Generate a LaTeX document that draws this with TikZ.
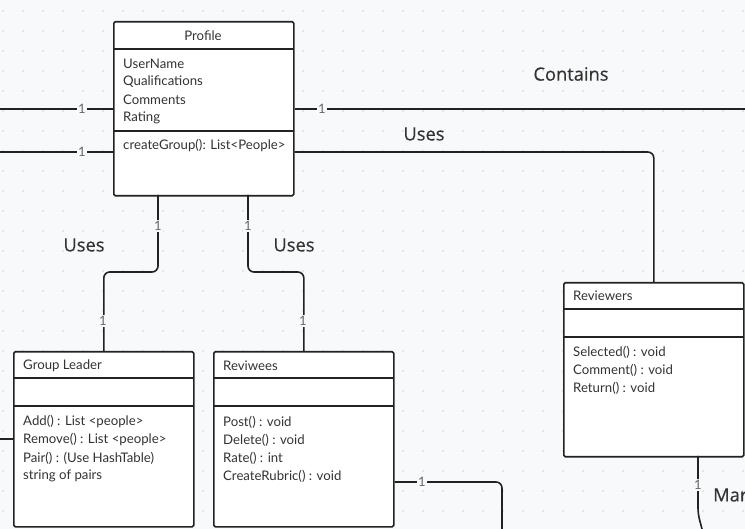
\documentclass[tikz,border=0pt]{standalone}
\usepackage{fontspec}
\setmainfont{Lato}
\newfontfamily\labfont[FakeBold=0.5]{Open Sans}
\usetikzlibrary{calc}
\definecolor{bgc}{HTML}{F8F9FB}
\definecolor{dotc}{HTML}{DEE0E4}
\definecolor{linec}{HTML}{222222}
\definecolor{txtc}{HTML}{333333}
\definecolor{numc}{HTML}{666666}
\tikzset{
  umlbox/.style={draw=linec, line width=1.6pt, fill=white, rounded corners=1.5pt, anchor=north west, inner sep=0pt},
  divider/.style={draw=linec, line width=1.6pt},
  conn/.style={draw=linec, line width=1.6pt, rounded corners=6pt},
  btxt/.style={anchor=west, inner sep=0pt, text=txtc, font=\fontsize{13.2}{15}\selectfont},
  ttl/.style={inner sep=0pt, text=txtc, font=\fontsize{13.2}{15}\selectfont},
  mult/.style={fill=bgc, inner sep=1.5pt, text=numc, font=\fontsize{13}{15}\selectfont},
  rel/.style={inner sep=0pt, text=txtc, font=\labfont\fontsize{18.3}{21}\selectfont}
}
\begin{document}
\begin{tikzpicture}[x=1pt,y=-1pt]
\fill[bgc] (0,0) rectangle (745,529);
\useasboundingbox (0,0) rectangle (745,529);
\foreach \i in {3,23,...,743}{\foreach \j in {11,31,...,529}{\fill[dotc] (\i,\j) circle (1.1pt);}}

% boxes
\node[umlbox, minimum width=180pt, minimum height=174pt] (profile) at (113,21) {};
\node[umlbox, minimum width=180pt, minimum height=175pt] (leader) at (13,351) {};
\node[umlbox, minimum width=180pt, minimum height=175pt] (reviwees) at (213,351) {};
\node[umlbox, minimum width=180pt, minimum height=174pt] (reviewers) at (563,282) {};

% dividers
\draw[divider] (113,49) -- (293,49);
\draw[divider] (113,131) -- (293,131);
\draw[divider] (13,378) -- (193,378);
\draw[divider] (13,406) -- (193,406);
\draw[divider] (213,378) -- (393,378);
\draw[divider] (213,406) -- (393,406);
\draw[divider] (563,309) -- (743,309);
\draw[divider] (563,337) -- (743,337);

% texts
\node[ttl] (tprofile) at (203,36) {Profile};
\node[btxt] (a1) at (123,64) {UserName};
\node[btxt] (a2) at (123,82) {Qualifications};
\node[btxt] (a3) at (123,100) {Comments};
\node[btxt] (a4) at (123,118) {Rating};
\node[btxt] (m1) at (123,146) {createGroup(): List<People>};

\node[btxt] (tleader) at (23,366) {Group Leader};
\node[btxt] (g1) at (23,422) {Add() : List <people>};
\node[btxt] (g2) at (23,440) {Remove() : List <people>};
\node[btxt] (g3) at (23,458) {Pair() : (Use HashTable)};
\node[btxt] (g4) at (23,476) {string of pairs};

\node[btxt] (treviwees) at (223,366) {Reviwees};
\node[btxt] (r1) at (223,422) {Post() : void};
\node[btxt] (r2) at (223,440) {Delete() : void};
\node[btxt] (r3) at (223,458) {Rate() : int};
\node[btxt] (r4) at (223,476) {CreateRubric() : void};

\node[btxt] (treviewers) at (573,296) {Reviewers};
\node[btxt] (v1) at (573,352) {Selected() : void};
\node[btxt] (v2) at (573,370) {Comment() : void};
\node[btxt] (v3) at (573,388) {Return() : void};

% free ends
\coordinate (e1) at (0,109);
\coordinate (e2) at (0,152);
\coordinate (e3) at (745,109);
\coordinate (e4) at (0,439);
\coordinate (e5) at (502,529);
\coordinate (e6) at (702,529);

% connectors
\draw[conn] (e1) -- (e1 -| profile.west);
\draw[conn] (e2) -- (e2 -| profile.west);
\draw[conn] (e3 -| profile.east) -- (e3);
\draw[conn] (profile.east |- e2) -- (reviewers.north |- e2) -- (reviewers.north);
\draw[conn] (158,195) -- (158,272) -- (leader.north |- 0,272) -- (leader.north);
\draw[conn] (248,195) -- (248,272) -- (reviwees.north |- 0,272) -- (reviwees.north);
\draw[conn] (e4) -- (e4 -| leader.west);
\draw[conn] (reviwees.east |- 0,482) -- (e5 |- 0,482) -- (e5);
\draw[conn] (698,456) -- (698,514) -- (e6);

% multiplicities
\node[mult] (n1) at (82,109) {1};
\node[mult] (n2) at (82,152) {1};
\node[mult] (n3) at (322,109) {1};
\node[mult] (n4) at (158,226) {1};
\node[mult] (n5) at (248,226) {1};
\node[mult] (n6) at (103,321) {1};
\node[mult] (n7) at (303,321) {1};
\node[mult] (n8) at (422,482) {1};
\node[mult] (n9) at (698,485) {1};

% relation labels
\node[rel] (contains) at (571,74) {Contains};
\node[rel] (uses1) at (424,134) {Uses};
\node[rel] (uses2) at (84,245) {Uses};
\node[rel] (uses3) at (294,245) {Uses};
\node[rel, anchor=west] (mar) at (713,495) {Mar};
\end{tikzpicture}
\end{document}
